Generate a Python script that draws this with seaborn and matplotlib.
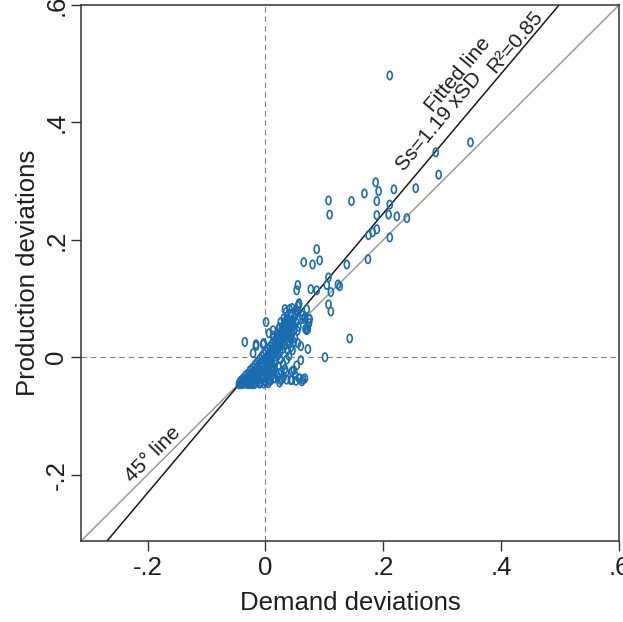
import numpy as np
import matplotlib
matplotlib.use("Agg")
import matplotlib.pyplot as plt
import seaborn as sns
from matplotlib.path import Path
from matplotlib.transforms import Affine2D

# demand vs production deviations
outlier_x = [0.211, 0.348, 0.289, 0.294, 0.187, 0.192, 0.168, 0.218, 0.255, 0.107,
             0.146, 0.189, 0.211, 0.109, 0.189, 0.209, 0.223, 0.240, 0.189, 0.182,
             0.175, 0.211, 0.087, 0.065, 0.080, 0.092, 0.138, 0.174, 0.107, 0.055,
             0.053, 0.077, 0.087, 0.104, 0.123, 0.126, 0.111, 0.107, 0.111, 0.057,
             0.055, 0.033, 0.041, 0.070, 0.055, 0.048, 0.036, 0.067, 0.075, 0.001,
             0.072, 0.033, 0.024, 0.046, 0.063, 0.068, -0.035, -0.016, -0.021, 0.013,
             -0.004, 0.072, 0.143, 0.101, 0.060, 0.053, 0.045, 0.028, 0.024, 0.045,
             0.058, 0.067]
outlier_y = [0.480, 0.366, 0.349, 0.311, 0.298, 0.283, 0.279, 0.286, 0.288, 0.267,
             0.266, 0.266, 0.260, 0.243, 0.242, 0.243, 0.240, 0.237, 0.218, 0.213,
             0.208, 0.204, 0.184, 0.162, 0.158, 0.165, 0.158, 0.167, 0.136, 0.123,
             0.114, 0.116, 0.114, 0.123, 0.124, 0.121, 0.111, 0.090, 0.078, 0.090,
             0.087, 0.082, 0.082, 0.082, 0.077, 0.066, 0.065, 0.068, 0.065, 0.060,
             0.054, 0.060, 0.051, 0.058, 0.065, 0.048, 0.026, 0.019, 0.007, 0.037,
             0.022, 0.014, 0.032, 0.000, -0.005, -0.014, -0.024, -0.037, -0.043, -0.039,
             -0.036, -0.036]

near_x = [0.006, 0.013, 0.014, 0.026, 0.031, 0.035, 0.052, 0.057, 0.074, 0.074,
          0.072, 0.067, 0.063, 0.038, 0.043, 0.048, 0.055, 0.060, 0.043, 0.026,
          -0.003, -0.016, 0.023, 0.029, 0.040, 0.046, 0.070, 0.046, 0.038, 0.048,
          0.035, 0.023, 0.013, 0.011, 0.026, 0.043, 0.057, 0.062, 0.014, 0.009,
          0.031, 0.037, 0.043, 0.049, 0.034, 0.040, 0.028, 0.045, 0.020, 0.051]
near_y = [0.041, 0.046, 0.034, 0.060, 0.054, 0.077, 0.080, 0.092, 0.065, 0.058,
          0.048, 0.066, 0.071, 0.041, 0.032, 0.026, 0.024, 0.019, 0.017, 0.034,
          0.024, 0.022, 0.049, 0.041, 0.051, 0.063, 0.046, 0.012, 0.012, -0.022,
          -0.026, -0.027, -0.022, -0.010, -0.039, -0.039, -0.036, -0.041, -0.036, -0.039,
          0.066, 0.070, 0.074, 0.069, 0.058, 0.062, 0.050, 0.084, 0.040, 0.072]

cluster_x = [-0.045, -0.042, -0.040, -0.038, -0.036, -0.034, -0.032, -0.030, -0.030, -0.028,
             -0.026, -0.025, -0.024, -0.022, -0.021, -0.020, -0.018, -0.017, -0.016, -0.015,
             -0.014, -0.013, -0.012, -0.011, -0.010, -0.009, -0.008, -0.007, -0.006, -0.005,
             -0.004, -0.003, -0.002, -0.001, 0.000, 0.000, 0.001, 0.002, 0.003, 0.004,
             0.005, 0.005, 0.006, 0.007, 0.008, 0.009, 0.010, 0.011, 0.012, 0.013,
             0.014, 0.015, 0.016, 0.017, 0.018, 0.019, 0.020, 0.021, 0.022, 0.023,
             0.024, 0.025, 0.026, 0.027, 0.028, 0.029, 0.030, 0.031, 0.032, 0.033,
             0.034, 0.035, 0.036, 0.038, 0.039, 0.040, 0.041, 0.042, 0.044, 0.045,
             0.047, 0.049, 0.050, 0.052, 0.054, 0.056,
             -0.044, -0.041, -0.037, -0.033, -0.029, -0.026, -0.023, -0.019, -0.035, -0.031,
             -0.027, -0.023, -0.019, -0.014, -0.010, -0.006, -0.003, 0.001, -0.027, -0.022,
             -0.018, -0.012, -0.008, -0.004, 0.002, 0.006, 0.004, 0.007, 0.003, 0.006,
             0.004, 0.007, 0.008, 0.010, 0.012, 0.016, 0.018, 0.020, 0.016, 0.022,
             0.025, 0.030, 0.033, 0.036, 0.040, 0.031, 0.036, 0.050, 0.052, 0.064]
cluster_y = [-0.046, -0.040, -0.045, -0.036, -0.042, -0.031, -0.038, -0.028, -0.044, -0.034,
             -0.022, -0.040, -0.029, -0.018, -0.036, -0.025, -0.013, -0.032, -0.044, -0.020,
             -0.008, -0.027, -0.038, -0.015, -0.003, -0.022, -0.043, -0.010, 0.002, -0.031,
             -0.017, 0.006, -0.005, -0.040, 0.010, -0.024, -0.012, 0.000, -0.034, 0.014,
             -0.019, -0.044, 0.005, -0.007, 0.019, -0.028, 0.010, 0.002, 0.024, -0.016,
             0.015, 0.006, 0.029, -0.004, 0.020, 0.012, 0.034, 0.003, 0.025, 0.017,
             0.039, 0.009, 0.030, 0.022, 0.044, 0.014, 0.035, 0.027, 0.048, 0.020,
             0.040, 0.031, 0.053, 0.045, 0.024, 0.036, 0.057, 0.049, 0.030, 0.040,
             0.055, 0.047, 0.033, 0.060, 0.045, 0.052,
             -0.043, -0.046, -0.045, -0.045, -0.046, -0.045, -0.046, -0.046, -0.039, -0.041,
             -0.038, -0.041, -0.039, -0.041, -0.045, -0.037, -0.045, -0.043, -0.031, -0.033,
             -0.028, -0.032, -0.026, -0.036, -0.030, -0.038, -0.025, -0.032, -0.015, -0.012,
             -0.004, -0.022, -0.040, -0.018, -0.030, -0.036, -0.025, -0.031, -0.012, -0.015,
             -0.004, -0.012, -0.020, -0.004, 0.002, -0.033, -0.038, -0.030, -0.040, -0.038]

demand = np.array(outlier_x + near_x + cluster_x)
production = np.array(outlier_y + near_y + cluster_y)

fit_slope = 1.19
fit_intercept = 0.007
r2 = 0.85

tick_vals = [-0.2, 0, 0.2, 0.4, 0.6]
tick_labels = ["-.2", "0", ".2", ".4", ".6"]
lims = (-0.313, 0.6)

BLUE = "#1a6cb1"
TXT = "#1e1e1e"

sns.set_style("ticks")
plt.rcParams["font.family"] = ["Liberation Sans", "DejaVu Sans"]

fig = plt.figure(figsize=(6.23, 6.22), dpi=100)
ax = fig.add_axes([81 / 623, 81 / 622, 538 / 623, 536 / 622])

# reference lines: zero lines, 45 degree line, fitted line
ax.axvline(0, color="#808080", linestyle=(0, (5, 3.5)), linewidth=0.8, zorder=1)
ax.axhline(0, color="#808080", linestyle=(0, (5, 3.5)), linewidth=0.8, zorder=1)
line_x = np.array(lims)
ax.plot(line_x, line_x, color="#9a9a9a", linewidth=1.1, zorder=2)
ax.plot(line_x, fit_slope * line_x + fit_intercept, color="#1a1a1a", linewidth=1.1, zorder=2)

# hollow upright ellipse marker, like Stata's small "Oh"
ellipse = Path.unit_circle().transformed(Affine2D().scale(0.6, 1.0))
sns.scatterplot(x=demand, y=production, marker=ellipse, s=36, color=BLUE,
                facecolor="none", edgecolor=BLUE, linewidth=1.2, ax=ax, zorder=3)

ax.text(-0.191, -0.165, "45° line", rotation=45, fontsize=15,
        ha="center", va="center", color=TXT)
ax.text(0.326, 0.481, "Fitted line", rotation=50, fontsize=15,
        ha="center", va="center", color=TXT)
ax.text(0.423, 0.538, f"R²={r2:.2f}", rotation=50, fontsize=15,
        ha="center", va="center", color=TXT)
ax.text(0.294, 0.402, f"Ss={fit_slope:.2f} xSD", rotation=50, fontsize=15,
        ha="center", va="center", color=TXT)

ax.set_xlim(lims)
ax.set_ylim(lims)
ax.set_xticks(tick_vals)
ax.set_xticklabels(tick_labels)
ax.set_yticks(tick_vals)
ax.set_yticklabels(tick_labels, rotation=90, va="center")
ax.tick_params(axis="both", length=7, width=1.0, color="#333333",
               labelsize=18.5, labelcolor=TXT)
ax.tick_params(axis="x", pad=4)
ax.tick_params(axis="y", pad=2)
for side in ["left", "right", "top", "bottom"]:
    ax.spines[side].set_visible(True)
    ax.spines[side].set_color("#333333")
    ax.spines[side].set_linewidth(1.1)

ax.set_xlabel("Demand deviations", fontsize=18.5, color=TXT, labelpad=8)
ax.set_ylabel("Production deviations", fontsize=18.5, color=TXT, labelpad=3)

fig.savefig("out.png", dpi=100)
